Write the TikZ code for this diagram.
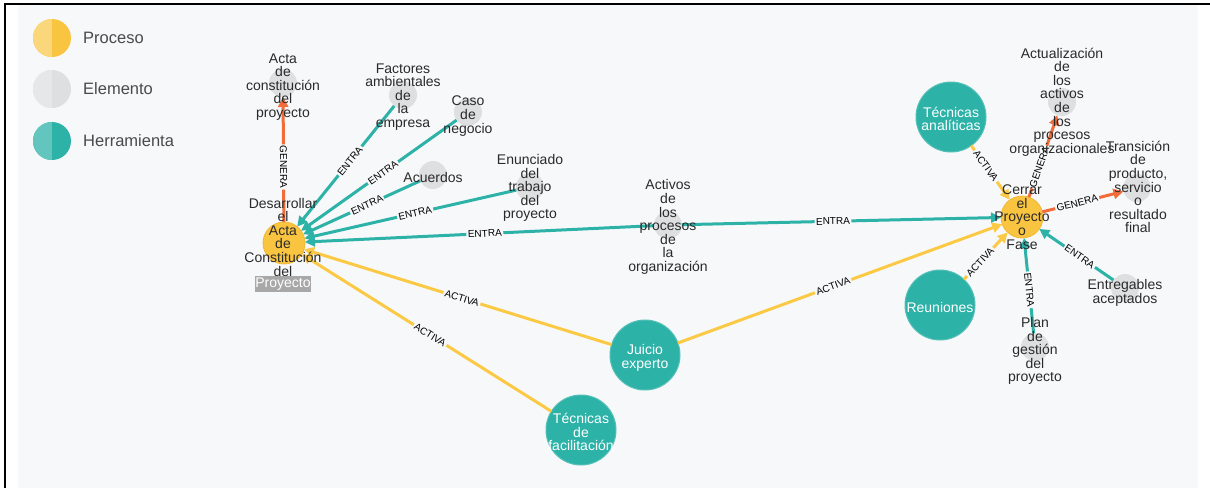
\documentclass[tikz,border=0pt]{standalone}
\usepackage{fontspec}
\setmainfont{Liberation Sans}
\usetikzlibrary{arrows.meta}
\definecolor{bg}{HTML}{F7F8FA}
\definecolor{yel}{HTML}{F9C440}
\definecolor{yeld}{HTML}{F2B833}
\definecolor{yell}{HTML}{FBD77C}
\definecolor{tealc}{HTML}{2DB2A8}
\definecolor{teall}{HTML}{62C6BE}
\definecolor{tealb}{HTML}{55C0B8}
\definecolor{grayc}{HTML}{DEDFE1}
\definecolor{grayl}{HTML}{E6E7E9}
\definecolor{orangec}{HTML}{F26B3A}
\definecolor{yline}{HTML}{FBC944}
\definecolor{txtc}{HTML}{2A2A2A}
\definecolor{legc}{HTML}{4A4A4A}
\definecolor{hil}{HTML}{A8A8A8}
\tikzset{
  proc/.style={circle, fill=yel, draw=yeld, line width=0.8pt, minimum size=42pt, inner sep=0pt},
  elem/.style={circle, fill=grayc, minimum size=28pt, inner sep=0pt},
  tool/.style={circle, fill=tealc, draw=tealb, line width=1pt, minimum size=70pt, inner sep=0pt},
  txt/.style={align=center, font=\fontsize{14}{13.6}\selectfont, text=txtc, inner sep=0pt},
  wtxt/.style={txt, text=white},
  lbl/.style={sloped, fill=bg, inner sep=1.5pt, font=\fontsize{10}{10}\selectfont, text=black},
  entra/.style={draw=tealc, line width=3pt, -{Triangle[length=10pt,width=10pt]}},
  activa/.style={draw=yline, line width=3pt, -{Triangle[length=10pt,width=10pt]}},
  genera/.style={draw=orangec, line width=3pt, -{Triangle[length=10pt,width=10pt]}},
  legcirc/.style={circle, minimum size=38pt, inner sep=0pt, fill=#1},
  legtxt/.style={anchor=west, font=\fontsize{16.5}{16.5}\selectfont, text=legc, inner sep=0pt}
}
\begin{document}
\begin{tikzpicture}[x=1pt,y=-1pt]
\useasboundingbox (0,0) rectangle (1210,488);
\fill[white] (0,0) rectangle (1210,488);
\fill[bg] (18,5) rectangle (1198,488);
\draw[black, line width=2.5pt] (5,488) -- (5,4) -- (1210,4);

% legend
\node[legcirc=yel, path picture={\fill[yell] (path picture bounding box.south west) rectangle (path picture bounding box.north);}] (lp) at (52,38) {};
\node[legcirc=grayc, path picture={\fill[grayl] (path picture bounding box.south west) rectangle (path picture bounding box.north);}] (le) at (52,89) {};
\node[legcirc=tealc, path picture={\fill[teall] (path picture bounding box.south west) rectangle (path picture bounding box.north);}] (lh) at (52,141) {};
\node[legtxt] (lpt) at (83,38) {Proceso};
\node[legtxt] (let) at (83,89) {Elemento};
\node[legtxt] (lht) at (83,141) {Herramienta};

% circles
\node[proc] (des) at (284,243) {};
\node[proc] (cer) at (1022,217) {};
\node[elem] (acta) at (283,83) {};
\node[elem] (fac) at (403,95) {};
\node[elem] (caso) at (468,112) {};
\node[elem] (acu) at (433,175) {};
\node[elem] (enu) at (530,187) {};
\node[elem] (act) at (668,225) {};
\node[elem] (actu) at (1062,102) {};
\node[elem] (tra) at (1137,188) {};
\node[elem] (plan) at (1035,347) {};
\node[elem] (ent) at (1125,288) {};
\node[tool] (tan) at (951,117) {};
\node[tool] (reu) at (940,305) {};
\node[tool] (jui) at (645,355) {};
\node[tool] (tfa) at (581,430) {};

% connectors
\draw[genera, shorten <=21pt, shorten >=14pt] (des.center) -- node[lbl,pos=.475]{GENERA} (acta.center);
\draw[entra, shorten <=14pt, shorten >=21pt] (fac.center) -- node[lbl,pos=.445]{ENTRA} (des.center);
\draw[entra, shorten <=14pt, shorten >=21pt] (caso.center) -- node[lbl,pos=.462]{ENTRA} (des.center);
\draw[entra, shorten <=14pt, shorten >=21pt] (acu.center) -- node[lbl,pos=.443]{ENTRA} (des.center);
\draw[entra, shorten <=14pt, shorten >=21pt] (enu.center) -- node[lbl,pos=.467]{ENTRA} (des.center);
\draw[entra, shorten <=14pt, shorten >=21pt] (act.center) -- node[lbl,pos=.477]{ENTRA} (des.center);
\draw[entra, shorten <=14pt, shorten >=21pt] (act.center) -- node[lbl,pos=.466]{ENTRA} (cer.center);
\draw[activa, shorten <=35pt, shorten >=21pt] (jui.center) -- node[lbl,pos=.507]{ACTIVA} (des.center);
\draw[activa, shorten <=35pt, shorten >=21pt] (tfa.center) -- node[lbl,pos=.508]{ACTIVA} (des.center);
\draw[activa, shorten <=35pt, shorten >=21pt] (jui.center) -- node[lbl,pos=.499]{ACTIVA} (cer.center);
\draw[activa, shorten <=35pt, shorten >=21pt] (tan.center) -- node[lbl,pos=.49]{ACTIVA} (cer.center);
\draw[activa, shorten <=35pt, shorten >=21pt] (reu.center) -- node[lbl,pos=.49]{ACTIVA} (cer.center);
\draw[genera, shorten <=21pt, shorten >=14pt] (cer.center) -- node[lbl,pos=.435]{GENERA} (actu.center);
\draw[genera, shorten <=21pt, shorten >=14pt] (cer.center) -- node[lbl,pos=.48]{GENERA} (tra.center);
\draw[entra, shorten <=14pt, shorten >=21pt] (plan.center) -- node[lbl,pos=.44]{ENTRA} (cer.center);
\draw[entra, shorten <=14pt, shorten >=21pt] (ent.center) -- node[lbl,pos=.44]{ENTRA} (cer.center);

% texts
\node[txt] (des-t) at (283,237) {Desarrollar\\el\\Acta\\de\\Constitución\\del};
\node[fill=hil, text=white, font=\fontsize{14}{13.6}\selectfont, inner sep=0pt, minimum width=55pt, minimum height=16pt] (des-p) at (283,284) {Proyecto};
\node[txt] (acta-t) at (283,87) {Acta\\de\\constitución\\del\\proyecto};
\node[txt] (fac-t) at (403,97) {Factores\\ambientales\\de\\la\\empresa};
\node[txt] (caso-t) at (468,116) {Caso\\de\\negocio};
\node[txt] (acu-t) at (433,177) {Acuerdos};
\node[txt] (enu-t) at (530,188) {Enunciado\\del\\trabajo\\del\\proyecto};
\node[txt] (act-t) at (668,227) {Activos\\de\\los\\procesos\\de\\la\\organización};
\node[txt] (cer-t) at (1022,217) {Cerrar\\el\\Proyecto\\o\\Fase};
\node[txt] (actu-t) at (1062,102) {Actualización\\de\\los\\activos\\de\\los\\procesos\\organizacionales};
\node[txt] (tra-t) at (1138,187) {Transición\\de\\producto,\\servicio\\o\\resultado\\final};
\node[txt] (plan-t) at (1035,351) {Plan\\de\\gestión\\del\\proyecto};
\node[txt] (ent-t) at (1125,293) {Entregables\\aceptados};
\node[wtxt] (tan-t) at (951,119) {Técnicas\\analíticas};
\node[wtxt] (reu-t) at (940,307) {Reuniones};
\node[wtxt] (jui-t) at (645,358) {Juicio\\experto};
\node[wtxt] (tfa-t) at (581,432) {Técnicas\\de\\facilitación};
\end{tikzpicture}
\end{document}
